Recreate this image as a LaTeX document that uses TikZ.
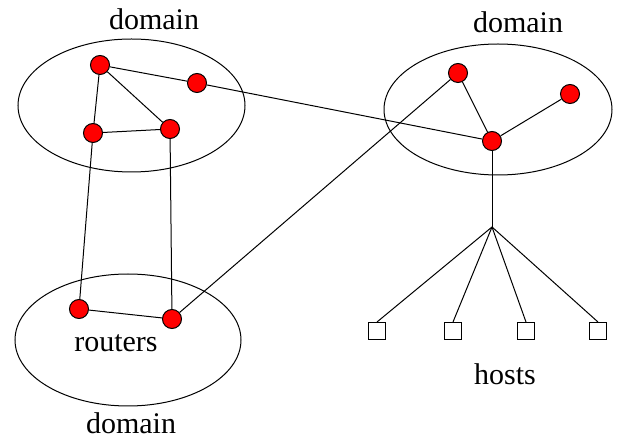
\documentclass[tikz,border=0pt]{standalone}
\usepackage{fontspec}
\setmainfont{Liberation Serif}
\usetikzlibrary{shapes.geometric}
\tikzset{
	router/.style={circle,draw,fill=red,line width=0.75pt,inner sep=0pt,minimum size=14.25pt},
	host/.style={rectangle,draw,line width=0.75pt,inner sep=0pt,minimum size=12.75pt},
	domainshape/.style={ellipse,draw,line width=0.75pt,inner sep=0pt},
	lbl/.style={font=\fontsize{22.5}{27}\selectfont}
}

\begin{document}
\begin{tikzpicture}[x=0.75pt,y=-0.75pt,line width=0.75pt]
		\useasboundingbox (0,0) rectangle (621,441);
		\node[domainshape,minimum width=170.25pt,minimum height=99.75pt] (dom1) at (131.5,105.5) {};
		\node[domainshape,minimum width=171pt,minimum height=98.25pt] (dom2) at (498,109.5) {};
		\node[domainshape,minimum width=169.5pt,minimum height=99pt] (dom3) at (128,340) {};
		\node[lbl] (lab1) at (154,19) {domain};
		\node[lbl] (lab2) at (518,22) {domain};
		\node[lbl] (lab3) at (131,423) {domain};
		\node[lbl] (labr) at (116,343) {routers};
		\node[lbl] (labh) at (505,374) {hosts};
		\node[router] (a) at (100,65) {};
		\node[router] (b) at (197,83) {};
		\node[router] (c) at (93,133) {};
		\node[router] (d) at (170,129) {};
		\node[router] (e) at (458,73) {};
		\node[router] (f) at (570,94) {};
		\node[router] (g) at (492,141) {};
		\node[router] (h) at (79,309) {};
		\node[router] (i) at (172,319) {};
		\coordinate (j) at (492,227);
		\node[host] (h1) at (377,331) {};
		\node[host] (h2) at (453,331) {};
		\node[host] (h3) at (526,331) {};
		\node[host] (h4) at (598,331) {};
		\draw (a) -- (b);
		\draw (a) -- (c);
		\draw (a) -- (d);
		\draw (c) -- (d);
		\draw (b) -- (g);
		\draw (e) -- (g);
		\draw (f) -- (g);
		\draw (c) -- (h);
		\draw (d) -- (i);
		\draw (h) -- (i);
		\draw (i) -- (e);
		\draw (g) -- (j);
		\draw (j) -- (h1.north);
		\draw (j) -- (h2.north);
		\draw (j) -- (h3.north);
		\draw (j) -- (h4.north);
	\end{tikzpicture}
\end{document}
